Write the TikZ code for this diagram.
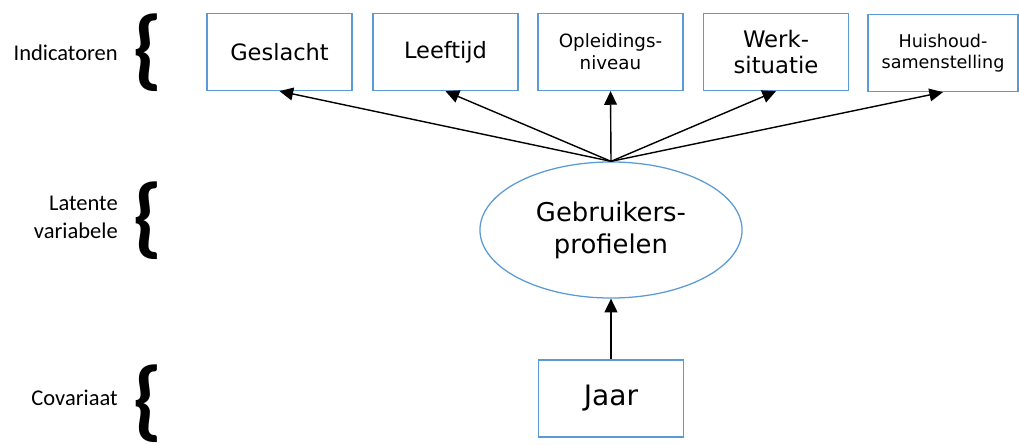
\documentclass[tikz,border=0pt]{standalone}
\usepackage{fontspec}
\setmainfont{DejaVu Sans}
\newfontfamily\calfont{Carlito}
\usepackage{tikz}
\usetikzlibrary{arrows.meta,positioning,shapes.geometric}
\definecolor{lcablue}{RGB}{91,155,213}
\tikzset{
  ind/.style={draw=lcablue, line width=0.9pt, fill=white, align=center,
    minimum width=3.625cm, minimum height=1.925cm, inner sep=1pt},
  latent/.style={draw=lcablue, line width=0.9pt, ellipse, align=center,
    minimum width=6.55cm, minimum height=3.4cm, inner sep=0pt},
  levellbl/.style={anchor=east, align=right, inner sep=0pt,
    font=\calfont\fontsize{16}{19.8}\selectfont},
  curly/.style={inner sep=0pt, font=\calfont\bfseries\fontsize{63}{63}\selectfont},
  pad/.style={draw=black, line width=1pt, -{Triangle[length=3.4mm,width=3.2mm]}}
}

\begin{document}
\begin{tikzpicture}[x=0.025cm, y=-0.025cm]
    \useasboundingbox (0,0) rectangle (1019,445);
    % niveaus
    \node[levellbl] (indlbl) at (118,53)  {Indicatoren};
    \node[levellbl] (latlbl) at (118,217) {Latente\\variabele};
    \node[levellbl] (covlbl) at (118,398) {Covariaat};
    \node[curly] (indbr) at (148,53)  {\{};
    \node[curly] (latbr) at (148,221) {\{};
    \node[curly] (covbr) at (148,404) {\{};

    % indicatoren
    \node[ind, font=\fontsize{16}{19}\selectfont] (gesl) at (279.5,52) {Geslacht};
    \node[ind, font=\fontsize{16}{19}\selectfont] (leef) at (445.5,52) {Leeftijd};
    \node[ind, font=\fontsize{13}{15.6}\selectfont] (opl) at (610.5,52) {Opleidings-\\niveau};
    \node[ind, font=\fontsize{16.2}{18.4}\selectfont] (werk) at (776,52) {Werk-\\situatie};
    \node[ind, minimum width=3.75cm, font=\fontsize{12.5}{15}\selectfont] (huis) at (943,53) {Huishoud-\\samenstelling};

    \node[latent, font=\fontsize{18.4}{22.7}\selectfont] (gp) at (611,230) {Gebruikers-\\profielen};
    \node[ind, font=\fontsize{20}{24}\selectfont] (jaar) at (611,398.5) {Jaar};

    \foreach \t in {gesl,leef,opl,werk,huis}
      \draw[pad] (gp.north) -- (\t.south);
    \draw[pad] (jaar) -- (gp);
\end{tikzpicture}
\end{document}
